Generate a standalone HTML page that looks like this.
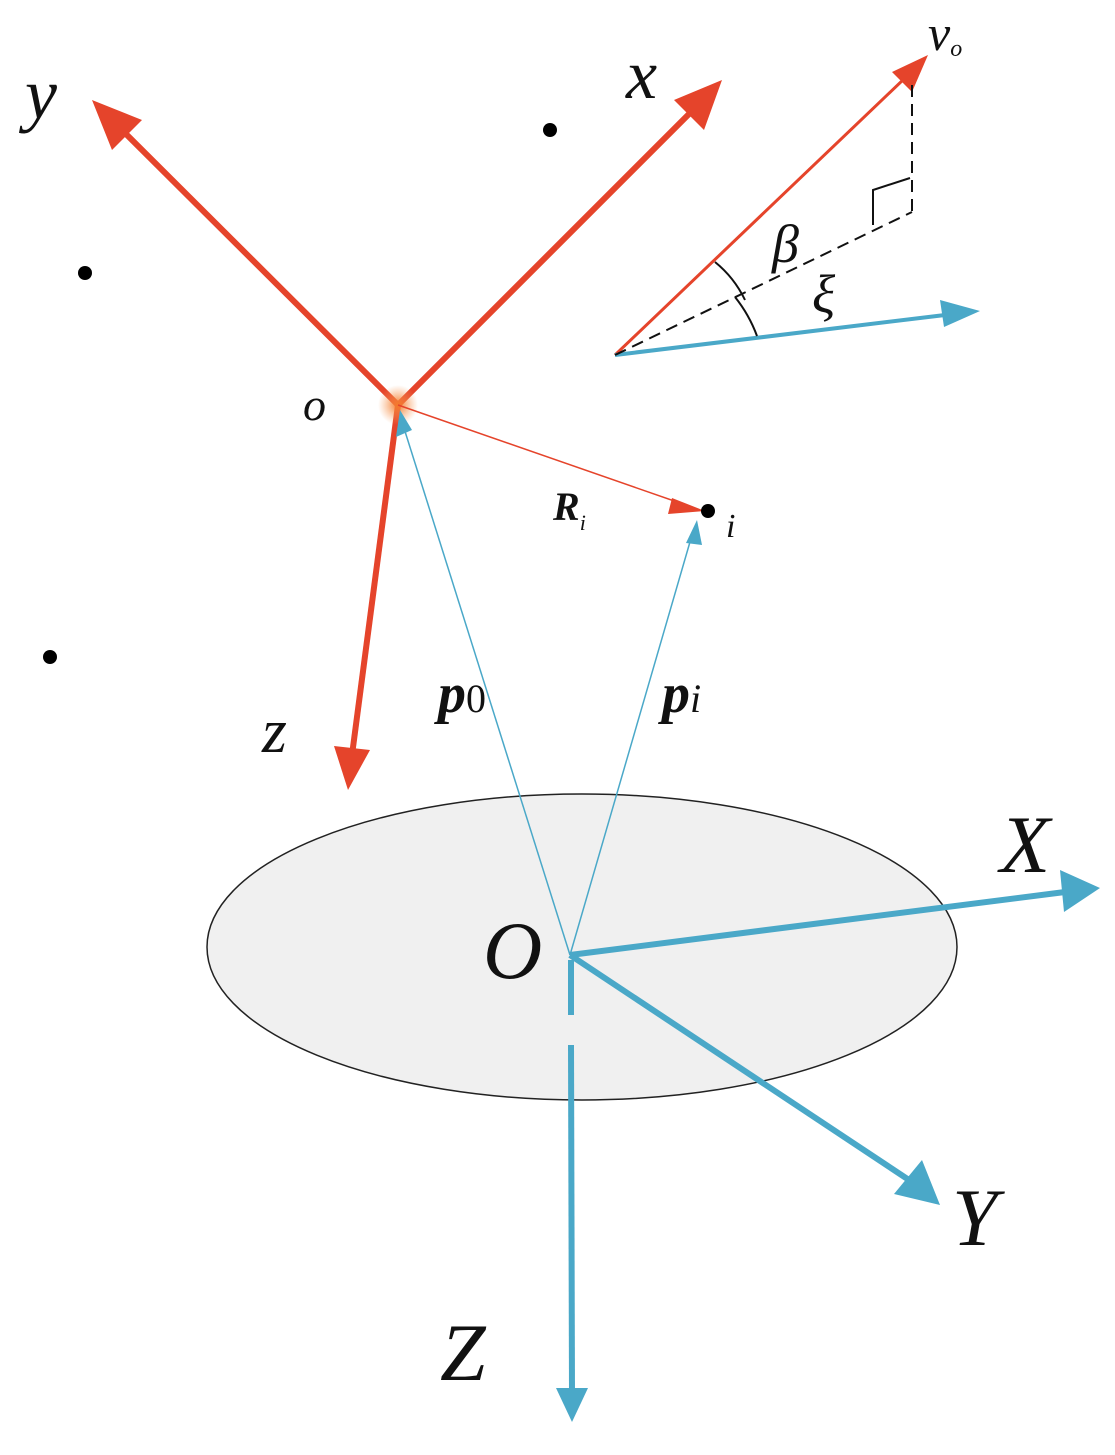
<!DOCTYPE html>
<html><head><style>html,body{margin:0;padding:0;background:#fff}</style></head><body>
<svg width="1115" height="1450" viewBox="0 0 1115 1450" xmlns="http://www.w3.org/2000/svg" font-family="Liberation Serif, serif" font-style="italic">
<defs>
<radialGradient id="glow"><stop offset="0" stop-color="#f47a2a"/><stop offset="1" stop-color="#f8a060" stop-opacity="0"/></radialGradient>
</defs>
<ellipse cx="582" cy="947" rx="375" ry="153" fill="#f0f0f0" stroke="#222" stroke-width="1.5"/>
<g stroke="#e5442b" stroke-width="6" fill="none">
<line x1="398" y1="405" x2="120" y2="128"/>
<line x1="398" y1="405" x2="695" y2="108"/>
<line x1="398" y1="405" x2="352" y2="755"/>
<line x1="615" y1="355" x2="905" y2="78" stroke-width="3"/>
</g>
<g fill="#e5442b">
<polygon points="92,100 142,120 112,150"/>
<polygon points="722,80 704,130 674,100"/>
<polygon points="348,790 334,746 370,750"/>
<polygon points="928,55 912,92 892,72"/>
</g>
<circle cx="398" cy="405" r="20" fill="url(#glow)"/>
<line x1="398" y1="405" x2="680" y2="503" stroke="#e5442b" stroke-width="1.5"/>
<polygon points="705,511 672,498 668,514" fill="#e5442b"/>
<g stroke="#4aa8c8" stroke-width="1.5">
<line x1="570" y1="955" x2="403" y2="425"/>
<line x1="570" y1="955" x2="692" y2="535"/>
</g>
<g fill="#4aa8c8">
<polygon points="400,410 396,437 412,430"/>
<polygon points="697,520 686,543 702,545"/>
</g>
<g stroke="#4aa8c8" stroke-width="6" fill="none">
<line x1="570" y1="955" x2="1065" y2="892"/>
<line x1="570" y1="955" x2="912" y2="1182"/>
<line x1="571" y1="960" x2="571" y2="1015"/>
<line x1="571" y1="1045" x2="572" y2="1395"/>
<line x1="615" y1="355" x2="945" y2="315" stroke-width="4"/>
</g>
<g fill="#4aa8c8">
<polygon points="1100,888 1060,870 1064,912"/>
<polygon points="940,1205 894,1194 922,1160"/>
<polygon points="572,1422 556,1388 588,1388"/>
<polygon points="980,311 940,300 944,327"/>
</g>
<g stroke="#111" stroke-width="2" stroke-dasharray="12,7" fill="none">
<line x1="615" y1="355" x2="912" y2="212"/>
<line x1="912" y1="85" x2="912" y2="212"/>
</g>
<polyline points="873,225 873,190 910,178" stroke="#111" stroke-width="2" fill="none"/>
<path d="M715,262 A110,110 0 0 1 745,300" stroke="#111" stroke-width="2" fill="none"/>
<path d="M735,297 A140,140 0 0 1 757,336" stroke="#111" stroke-width="2" fill="none"/>
<g fill="#000"><circle cx="550" cy="130" r="7"/><circle cx="85" cy="273" r="7"/><circle cx="50" cy="657" r="7"/><circle cx="708" cy="511" r="7"/></g>
<g fill="#111">
<text x="25" y="118" font-size="72">y</text>
<text x="626" y="98" font-size="70">x</text>
<text x="303" y="420" font-size="46">o</text>
<text x="553" y="520" font-size="40" font-weight="bold">R<tspan font-size="22" dy="10" font-weight="normal">i</tspan></text>
<text x="726" y="537" font-size="34">i</text>
<text x="438" y="712" font-size="56" font-weight="bold">p<tspan font-style="normal" font-weight="normal" font-size="40">0</tspan></text>
<text x="662" y="712" font-size="56" font-weight="bold">p<tspan font-weight="normal" font-size="40">i</tspan></text>
<text x="262" y="752" font-size="64">z</text>
<text x="1000" y="872" font-size="82">X</text>
<text x="483" y="978" font-size="82">O</text>
<text x="952" y="1245" font-size="82">Y</text>
<text x="440" y="1380" font-size="82">Z</text>
<text x="928" y="50" font-size="50">v<tspan font-size="24" dy="6">o</tspan></text>
<text x="772" y="262" font-size="54">β</text>
<text x="812" y="312" font-size="54">ξ</text>
</g>
</svg>
</body></html>
